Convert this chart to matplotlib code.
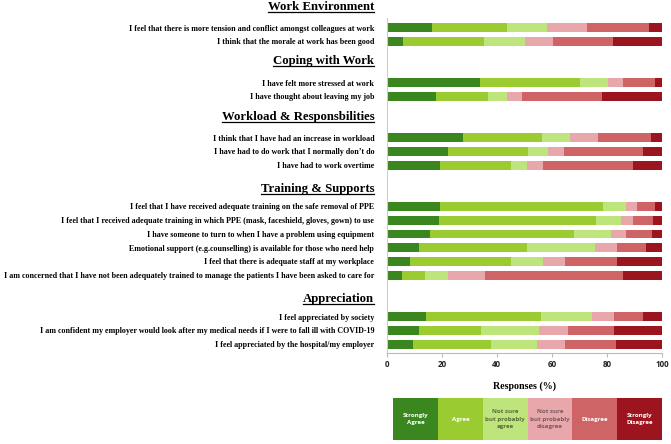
import numpy as np
import matplotlib
matplotlib.use("Agg")
import matplotlib.pyplot as plt
from matplotlib.lines import Line2D
from matplotlib.transforms import IdentityTransform, blended_transform_factory

# survey statements, top to bottom
questions = [
    "I feel that there is more tension and conflict amongst colleagues at work",
    "I think that the morale at work has been good",
    "I have felt more stressed at work",
    "I have thought about leaving my job",
    "I think that I have had an increase in workload",
    "I have had to do work that I normally don\u2019t do",
    "I have had to work overtime",
    "I feel that I have received adequate training on the safe removal of PPE",
    "I feel that I received adequate training in which PPE (mask, faceshield, gloves, gown) to use",
    "I have someone to turn to when I have a problem using equipment",
    "Emotional support (e.g.counselling) is available for those who need help",
    "I feel that there is adequate staff at my workplace",
    "I am concerned that I have not been adequately trained to manage the patients I have been asked to care for",
    "I feel appreciated by society",
    "I am confident my employer would look after my medical needs if I were to fall ill with COVID-19",
    "I feel appreciated by the hospital/my employer",
]
row_pos = [0, 1, 4, 5, 8, 9, 10, 13, 14, 15, 16, 17, 18, 21, 22, 23]

sections = ["Work Environment", "Coping with Work", "Workload & Responsbilities",
            "Training & Supports", "Appreciation"]
section_pos = [-1.53, 2.4, 6.52, 11.73, 19.75]

responses = ["Strongly\nAgree", "Agree", "Not sure\nbut probably\nagree",
             "Not sure\nbut probably\ndisagree", "Disagree", "Strongly\nDisagree"]

# percentages per statement (same order as questions)
strongly_agree = [16.6, 6.1, 33.9, 17.8, 27.8, 22.2, 19.5, 19.4, 18.9, 15.9, 11.7, 8.5, 5.7, 14.2, 11.7, 9.7]
agree          = [27.1, 29.3, 36.3, 19.0, 28.7, 29.0, 25.5, 59.1, 57.1, 52.1, 39.1, 36.5, 8.3, 41.9, 22.6, 28.3]
prob_agree     = [14.5, 14.7, 10.2, 6.8, 10.1, 7.3, 5.8, 8.4, 9.1, 13.4, 25.0, 11.9, 8.3, 18.4, 20.9, 16.5]
prob_disagree  = [14.7, 10.3, 5.3, 5.7, 10.2, 6.0, 6.1, 3.9, 4.2, 5.4, 7.9, 7.7, 13.5, 8.1, 10.8, 10.1]
disagree       = [22.5, 21.9, 11.8, 29.0, 19.1, 28.7, 32.4, 6.7, 7.3, 9.7, 10.5, 19.2, 49.9, 10.4, 16.6, 18.7]
strongly_dis   = [4.6, 17.7, 2.5, 21.7, 4.1, 6.8, 10.7, 2.5, 3.4, 3.5, 5.8, 16.2, 14.3, 7.0, 17.4, 16.7]

colors = ["#3a871f", "#9acb30", "#bee47c", "#e8a7ab", "#cf6466", "#9c141d"]
text_colors = ["white", "white", "#5b6b3c", "#7a5a5c", "white", "white"]

serif = "Liberation Serif"

fig = plt.figure(figsize=(6.71, 4.44), dpi=100)
ax = fig.add_axes([0.5763, 0.205, 0.4103, 0.7545])

series = [strongly_agree, agree, prob_agree, prob_disagree, disagree, strongly_dis]
left = np.zeros(len(questions))
for vals, c in zip(series, colors):
    ax.barh(row_pos, vals, left=left, height=0.65, color=c, linewidth=0)
    left += np.array(vals)

ax.set_xlim(0, 100)
ax.set_ylim(23.65, -0.7)
ax.set_xticks([0, 20, 40, 60, 80, 100])
for lab in ax.get_xticklabels():
    lab.set_fontfamily("Open Sans")
    lab.set_fontweight("bold")
    lab.set_fontsize(5.8)
    lab.set_color("#222222")
ax.tick_params(axis="x", length=3, color="#bbbbbb", pad=2)
ax.set_yticks(row_pos)
ax.set_yticklabels(questions, fontfamily=serif, fontweight="bold", fontsize=5.8)
ax.tick_params(axis="y", length=0, pad=9)
for s in ["top", "right"]:
    ax.spines[s].set_visible(False)
ax.spines["left"].set_color("#cccccc")
ax.spines["bottom"].set_color("#bbbbbb")

trans = blended_transform_factory(ax.transAxes, ax.transData)
heads = []
for name, y in zip(sections, section_pos):
    t = ax.text(-0.045, y, name, transform=trans, ha="right", va="center",
                fontfamily=serif, fontweight="bold", fontsize=9.2, clip_on=False)
    heads.append(t)

fig.text(0.782, 0.131, "Responses (%)", ha="center", va="center",
         fontfamily=serif, fontweight="bold", fontsize=7.2)

# legend strip
lax = fig.add_axes([0.5862, 0.009, 0.4004, 0.0946])
for i, (lab, c, tc) in enumerate(zip(responses, colors, text_colors)):
    lax.barh(0, 1, left=i, height=1, color=c, linewidth=0)
    lax.text(i + 0.5, 0, lab, ha="center", va="center", color=tc,
             fontfamily="Open Sans", fontweight="bold", fontsize=4.4, linespacing=1.6)
lax.set_xlim(0, 6)
lax.set_ylim(-0.5, 0.5)
lax.axis("off")

# underline the section headings
fig.canvas.draw()
r = fig.canvas.get_renderer()
for t in heads:
    bb = t.get_window_extent(r)
    yline = bb.y0 + 1.0
    fig.add_artist(Line2D([bb.x0, bb.x1], [yline, yline], transform=IdentityTransform(),
                          color="black", linewidth=0.9))

fig.savefig("out.png", dpi=100)
